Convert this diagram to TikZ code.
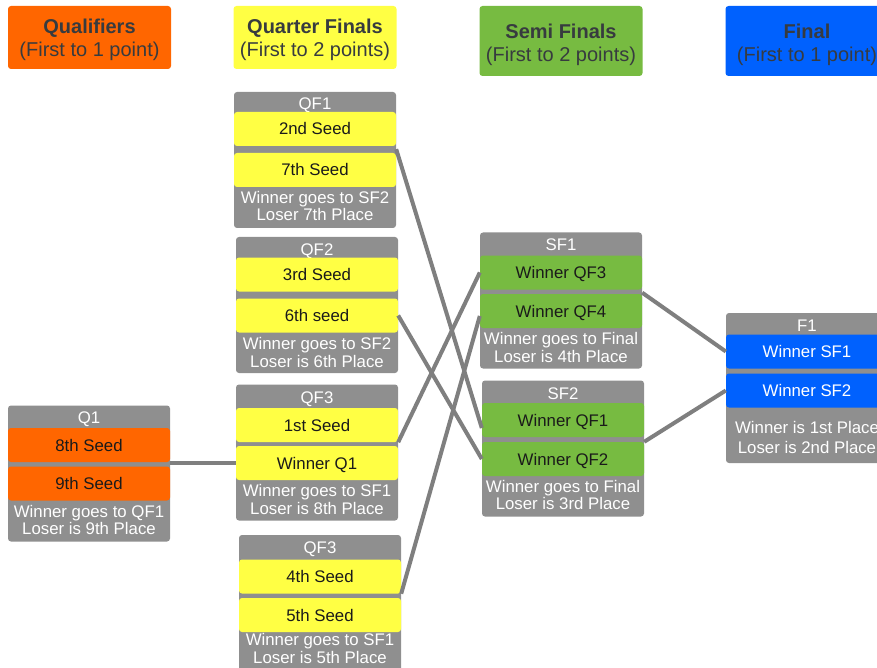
\documentclass[tikz,border=0pt]{standalone}
\usepackage{fontspec}
\setmainfont{Liberation Sans}
\definecolor{qorange}{HTML}{FF6600}
\definecolor{qyellow}{HTML}{FFFF44}
\definecolor{sgreen}{HTML}{77BB41}
\definecolor{fblue}{HTML}{0061FE}
\definecolor{boxgray}{HTML}{8F8F8F}
\definecolor{linkgray}{HTML}{7F7F7F}
\definecolor{headtext}{HTML}{373B3F}
\definecolor{slottext}{HTML}{1A1A1A}
\tikzset{head/.style={rounded corners=3pt,minimum width=163pt,minimum height=63pt,inner sep=0pt,
        align=center,text=headtext,text height=41.6pt,text depth=4.2pt,font=\fontsize{20}{23}\selectfont},
    match/.style={fill=boxgray,rounded corners=3pt,minimum width=162pt,minimum height=136pt,inner sep=0pt},
    slot/.style={rounded corners=3pt,minimum width=162pt,minimum height=34pt,inner sep=0pt,
        text height=12pt,text depth=0pt,text=slottext,font=\fontsize{16.8}{18}\selectfont},
    title/.style={text=white,inner sep=0pt,text height=12pt,text depth=0pt,font=\fontsize{16.8}{18}\selectfont},
    note/.style={text=white,inner sep=0pt,align=center,font=\fontsize{16.8}{17.5}\selectfont},
    link/.style={draw=linkgray,line width=4pt}}

\begin{document}
\begin{tikzpicture}[x=1pt,y=-1pt]
\useasboundingbox (0,0) rectangle (877,668);
\clip (0,0) rectangle (877,668);
% round headers
\node[head,fill=qorange] (hq) at (89.5,37.5) {\textbf{Qualifiers}\\(First to 1 point)};
\node[head,fill=qyellow] (hqf) at (315,37.5) {\textbf{Quarter Finals}\\(First to 2 points)};
\node[head,fill=sgreen,minimum height=70pt,text height=45.6pt] (hsf) at (561,41) {\textbf{Semi Finals}\\(First to 2 points)};
\node[head,fill=fblue,minimum height=70pt,text height=45.6pt] (hf) at (807,41) {\textbf{Final}\\(First to 1 point)};
% qualifier
\node[match] (q1) at (89,473.5) {};
\node[title] (q1t) at (89,417) {Q1};
\node[slot,fill=qorange] (q1a) at (89,445) {8th Seed};
\node[slot,fill=qorange] (q1b) at (89,483.5) {9th Seed};
\node[note] (q1n) at (89,520) {Winner goes to QF1\\Loser is 9th Place};
% quarter finals
\node[match] (qf1) at (315,160) {};
\node[title] (qf1t) at (315,104) {QF1};
\node[slot,fill=qyellow] (qf1a) at (315,129) {2nd Seed};
\node[slot,fill=qyellow] (qf1b) at (315,170) {7th Seed};
\node[note] (qf1n) at (315,206) {Winner goes to SF2\\Loser 7th Place};

\node[match] (qf2) at (317,305) {};
\node[title] (qf2t) at (317,249) {QF2};
\node[slot,fill=qyellow] (qf2a) at (317,274.5) {3rd Seed};
\node[slot,fill=qyellow] (qf2b) at (317,315.5) {6th seed};
\node[note] (qf2n) at (317,352.5) {Winner goes to SF2\\Loser is 6th Place};

\node[match] (qf3) at (317,452.5) {};
\node[title] (qf3t) at (317,397) {QF3};
\node[slot,fill=qyellow] (qf3a) at (317,425) {1st Seed};
\node[slot,fill=qyellow] (qf3b) at (317,463) {Winner Q1};
\node[note] (qf3n) at (317,499.5) {Winner goes to SF1\\Loser is 8th Place};

\node[match] (qf4) at (320,603) {};
\node[title] (qf4t) at (320,547) {QF3};
\node[slot,fill=qyellow] (qf4a) at (320,576.5) {4th Seed};
\node[slot,fill=qyellow] (qf4b) at (320,615) {5th Seed};
\node[note] (qf4n) at (320,648.5) {Winner goes to SF1\\Loser is 5th Place};
% semi finals
\node[match] (sf1) at (561,300.5) {};
\node[title] (sf1t) at (561,245) {SF1};
\node[slot,fill=sgreen] (sf1a) at (561,272.5) {Winner QF3};
\node[slot,fill=sgreen] (sf1b) at (561,311) {Winner QF4};
\node[note] (sf1n) at (561,347.5) {Winner goes to Final\\Loser is 4th Place};

\node[match] (sf2) at (563,448.5) {};
\node[title] (sf2t) at (563,393) {SF2};
\node[slot,fill=sgreen] (sf2a) at (563,420) {Winner QF1};
\node[slot,fill=sgreen] (sf2b) at (563,459) {Winner QF2};
\node[note] (sf2n) at (563,495) {Winner goes to Final\\Loser is 3rd Place};
% final
\node[match,minimum height=150pt] (f1) at (807,388) {};
\node[title] (f1t) at (807,325) {F1};
\node[slot,fill=fblue,text=white] (f1a) at (807,351.5) {Winner SF1};
\node[slot,fill=fblue,text=white] (f1b) at (807,390.5) {Winner SF2};
\node[note,font=\fontsize{16.8}{20}\selectfont] (f1n) at (807,437) {Winner is 1st Place\\Loser is 2nd Place};
% links
\draw[link] (qf3b.west) -- (qf3b.west -| q1b.east);
\draw[link] ([yshift=-3pt]qf1a.south east) -- ([yshift=-8pt]sf2a.west);
\draw[link] (qf2b.east) -- (sf2b.west);
\draw[link] (qf3a.south east) -- (sf1a.west);
\draw[link] (qf4a.south east) -- ([yshift=-5pt]sf1b.west);
\draw[link] ([yshift=-3pt]sf1a.south east) -- (f1a.west);
\draw[link] (sf2b.north east) -- (f1b.west);
\end{tikzpicture}
\end{document}
